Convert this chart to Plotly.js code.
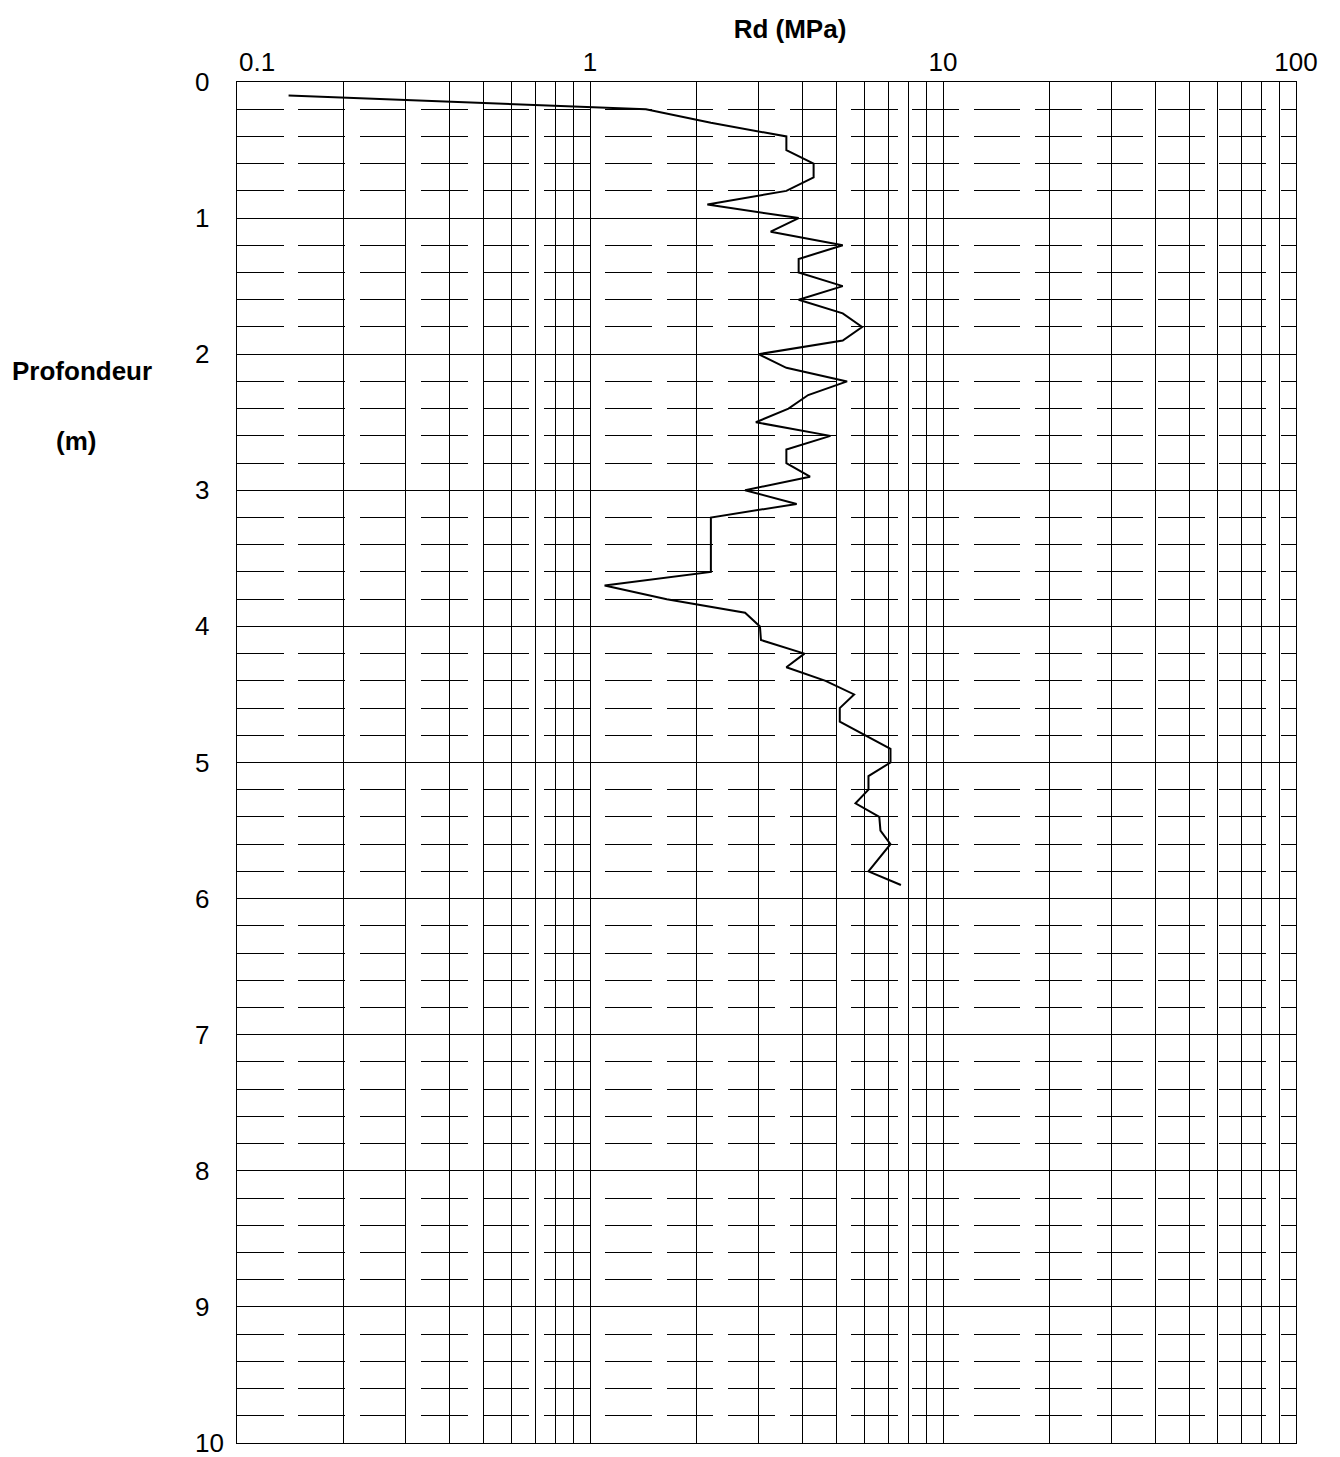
<!DOCTYPE html>
<html><head><meta charset="utf-8">
<script src="https://cdn.plot.ly/plotly-3.0.1.min.js"></script>
<style>html,body{margin:0;padding:0;background:#fff}</style>
</head><body><div id="chart" style="width:1340px;height:1457px"></div>
<script>
// Depth (m)
const depth = [0.1,0.2,0.3,0.4,0.5,0.6,0.7,0.8,0.9,1.0,
  1.1,1.2,1.3,1.4,1.5,1.6,1.7,1.8,1.9,2.0,
  2.1,2.2,2.3,2.4,2.5,2.6,2.7,2.8,2.9,3.0,
  3.1,3.2,3.3,3.4,3.5,3.6,3.7,3.8,3.9,4.0,
  4.1,4.2,4.3,4.4,4.5,4.6,4.7,4.8,4.9,5.0,
  5.1,5.2,5.3,5.4,5.5,5.6,5.7,5.8,5.9];
// Rd (MPa)
const rd = [0.14,1.44,2.2,3.6,3.6,4.3,4.3,3.6,2.15,3.9,
  3.25,5.2,3.9,3.9,5.2,3.9,5.2,5.9,5.2,3.0,
  3.6,5.35,4.15,3.65,2.95,4.8,3.6,3.6,4.2,2.75,
  3.85,2.2,2.2,2.2,2.2,2.2,1.1,1.65,2.75,3.03,
  3.05,4.05,3.6,4.65,5.6,5.1,5.1,6.0,7.1,7.1,
  6.15,6.15,5.65,6.6,6.65,7.1,6.6,6.15,7.6];

const xGridVals = [0.1,0.2,0.3,0.4,0.5,0.6,0.7,0.8,0.9,
  1,2,3,4,5,6,7,8,9,
  10,20,30,40,50,60,70,80,90,100];
const xLabelVals = [0.1,1,10,100];
const xLabelText = ['0.1','1','10','100'];
const yLabelVals = [0,1,2,3,4,5,6,7,8,9,10];
const yLabelText = ['0','1','2','3','4','5','6','7','8','9','10'];

const FONT = 'Liberation Sans, Arial, sans-serif';
const W = 1340, H = 1457;
const L = 237, R = 44, T = 82, B = 14;
const PW = W - L - R, PH = H - T - B;

// x tick text: decade labels except 0.1 (drawn left-aligned as annotation)
const xTickText = xGridVals.map(v => {
  const i = xLabelVals.indexOf(v);
  return (i > 0) ? xLabelText[i] : '';
});

const ann = [];
ann.push({text: xLabelText[0], x: Math.log10(xLabelVals[0]), xref: 'x', xanchor: 'left',
  y: 1, yref: 'paper', yanchor: 'bottom', yshift: 3, showarrow: false,
  font: {family: FONT, size: 26, color: '#000'}});
yLabelVals.forEach((v, i) => {
  ann.push({text: yLabelText[i], x: (193 - L) / PW, xref: 'paper', xanchor: 'left',
    y: v, yref: 'y', yanchor: 'middle', showarrow: false,
    font: {family: FONT, size: 26, color: '#000'}});
});
ann.push({text: '<b>Profondeur</b>', x: (82 - L) / PW, xref: 'paper', xanchor: 'center',
  y: 1 - (371 - T) / PH, yref: 'paper', yanchor: 'middle', showarrow: false,
  font: {family: FONT, size: 26, color: '#000'}});
ann.push({text: '<b>(m)</b>', x: (76 - L) / PW, xref: 'paper', xanchor: 'center',
  y: 1 - (441 - T) / PH, yref: 'paper', yanchor: 'middle', showarrow: false,
  font: {family: FONT, size: 26, color: '#000'}});

const trace = {x: rd, y: depth, type: 'scatter', mode: 'lines',
  line: {color: '#000', width: 2}, hoverinfo: 'x+y', showlegend: false};

const layout = {
  width: W, height: H,
  margin: {l: L, r: R, t: T, b: B, pad: 0},
  paper_bgcolor: '#fff', plot_bgcolor: '#fff',
  font: {family: FONT, size: 26, color: '#000'},
  title: {text: '<b>Rd (MPa)</b>', x: 790 / W, xref: 'container', xanchor: 'center',
    y: 1 - 29 / H, yref: 'container', yanchor: 'middle',
    font: {family: FONT, size: 26, color: '#000'}},
  showlegend: false,
  xaxis: {type: 'log', range: [-1, 2], side: 'top',
    tickmode: 'array', tickvals: xGridVals, ticktext: xTickText,
    ticks: '',
    tickfont: {family: FONT, size: 26, color: '#000'},
    showgrid: true, gridcolor: '#000', gridwidth: 1,
    showline: true, mirror: true, linecolor: '#000', linewidth: 1,
    zeroline: false, fixedrange: true},
  yaxis: {range: [10, 0], tickmode: 'array', tickvals: yLabelVals,
    showticklabels: false, ticks: '',
    showgrid: true, gridcolor: '#000', gridwidth: 1,
    minor: {tick0: 0, dtick: 0.2, showgrid: true, gridcolor: '#000', gridwidth: 1,
      griddash: '46.5px,14.9px', ticks: ''},
    showline: true, mirror: true, linecolor: '#000', linewidth: 1,
    zeroline: false, fixedrange: true},
  annotations: ann
};

Plotly.newPlot('chart', [trace], layout, {staticPlot: true, displayModeBar: false});
</script>
</body></html>
